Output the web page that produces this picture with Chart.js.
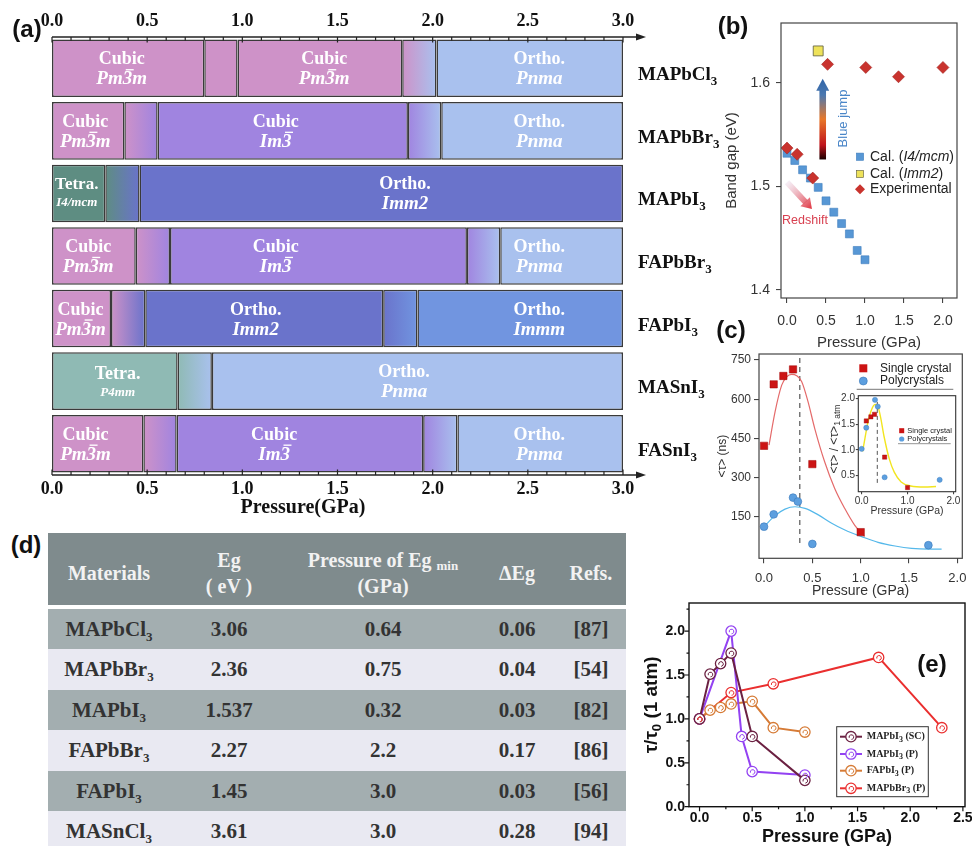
<!DOCTYPE html>
<html>
<head>
<meta charset="utf-8">
<script src="https://cdn.jsdelivr.net/npm/chart.js@4/dist/chart.umd.min.js"></script>
<style>
html,body{margin:0;padding:0;overflow:hidden;background:#fff;width:972px;height:846px;}
#root{position:relative;width:972px;height:846px;overflow:hidden;background:#fff;}
canvas{position:absolute;}
.plabel{position:absolute;font-family:'Liberation Sans',Arial,sans-serif;font-weight:bold;font-size:24px;color:#111;transform:translate(-50%,-50%);white-space:nowrap;line-height:1;}
#tbl{position:absolute;left:48px;top:533px;width:578px;font-family:'Liberation Serif','Times New Roman',serif;font-weight:bold;}
.tr{display:grid;grid-template-columns:122px 118px 190px 78px 70px;}
.tr>div{display:flex;align-items:center;justify-content:center;text-align:center;box-sizing:border-box;}
.th{height:72px;background:#7F8B8D;color:#F2F2F2;font-size:20px;line-height:26px;margin-bottom:3.5px;}
.th>div{padding-top:7px;}
.td{height:40.5px;font-size:21px;line-height:24px;color:#333;}
.dark{background:#A3AEB0;}
.light{background:#E9E9F2;}
sub{font-size:13px;vertical-align:-5px;line-height:0;}
.th sub{font-size:13px;vertical-align:-3px;}
</style>
</head>
<body>
<div id="root">
  <canvas id="ca" width="730" height="520" style="left:0;top:0;width:730px;height:520px"></canvas>
  <canvas id="cb" width="272" height="355" style="left:700px;top:0;width:272px;height:355px"></canvas>
  <canvas id="cc" width="285" height="265" style="left:700px;top:335px;width:285px;height:265px"></canvas>
  <canvas id="ci" width="145" height="135" style="left:820px;top:385px;width:145px;height:135px"></canvas>
  <canvas id="ce" width="345" height="258" style="left:640px;top:590px;width:345px;height:258px"></canvas>
  <div id="tbl"></div>
  <div class="plabel" style="left:27px;top:29px">(a)</div>
  <div class="plabel" style="left:733px;top:26px">(b)</div>
  <div class="plabel" style="left:731px;top:330px">(c)</div>
  <div class="plabel" style="left:26px;top:545px">(d)</div>
  <div class="plabel" style="left:932px;top:664px">(e)</div>
</div>
<script>
// ---------------- DATA ----------------
// (a) phase diagram
const materials = ['MAPbCl3', 'MAPbBr3', 'MAPbI3', 'FAPbBr3', 'FAPbI3', 'MASnI3', 'FASnI3'];
const boundaries = [
  [0, 0.80, 0.975, 1.84, 2.02, 3.0],
  [0, 0.38, 0.555, 1.87, 2.045, 3.0],
  [0, 0.28, 0.46, 3.0],
  [0, 0.44, 0.62, 2.18, 2.355, 3.0],
  [0, 0.31, 0.49, 1.74, 1.92, 3.0],
  [0, 0.66, 0.84, 3.0],
  [0, 0.48, 0.655, 1.95, 2.13, 3.0]
];
const phases = [
  ['cubicPm', 'cubicPm', 'cubicPm', 'trans', 'orthoPnma'],
  ['cubicPm', 'trans', 'cubicIm', 'trans', 'orthoPnma'],
  ['tetraI4', 'trans', 'orthoImm2'],
  ['cubicPm', 'trans', 'cubicIm', 'trans', 'orthoPnma'],
  ['cubicPm', 'trans', 'orthoImm2', 'trans', 'orthoImmm'],
  ['tetraP4', 'trans', 'orthoPnma'],
  ['cubicPm', 'trans', 'cubicIm', 'trans', 'orthoPnma']
];
const phaseLabels = [
  [['Cubic', 'Pm3m', 0.366], ['Cubic', 'Pm3m', 1.43], ['Ortho.', 'Pnma', 2.56]],
  [['Cubic', 'Pm3m', 0.175], ['Cubic', 'Im3', 1.175], ['Ortho.', 'Pnma', 2.56]],
  [['Tetra.', 'I4/mcm', 0.13], ['Ortho.', 'Imm2', 1.855]],
  [['Cubic', 'Pm3m', 0.19], ['Cubic', 'Im3', 1.175], ['Ortho.', 'Pnma', 2.56]],
  [['Cubic', 'Pm3m', 0.15], ['Ortho.', 'Imm2', 1.07], ['Ortho.', 'Immm', 2.56]],
  [['Tetra.', 'P4mm', 0.345], ['Ortho.', 'Pnma', 1.85]],
  [['Cubic', 'Pm3m', 0.176], ['Cubic', 'Im3', 1.167], ['Ortho.', 'Pnma', 2.56]]
];
const aTicks = [0, 0.5, 1.0, 1.5, 2.0, 2.5, 3.0];

// (b) band gap
const bCalI4X = [0, 0.1, 0.2, 0.3, 0.4, 0.5, 0.6, 0.7, 0.8, 0.9, 1.0];
const bCalI4Y = [1.532, 1.525, 1.516, 1.508, 1.499, 1.486, 1.475, 1.464, 1.454, 1.438, 1.429];
const bCalImm2X = [0.4];
const bCalImm2Y = [1.631];
const bExpX = [0.0, 0.13, 0.33, 0.52, 1.01, 1.43, 2.0];
const bExpY = [1.537, 1.531, 1.508, 1.618, 1.615, 1.606, 1.615];
const bTicksX = [0, 0.5, 1.0, 1.5, 2.0];
const bTicksY = [1.4, 1.5, 1.6];

// (c) lifetime
const cSingleX = [0, 0.1, 0.2, 0.3, 0.5, 1.0];
const cSingleY = [422, 657, 689, 714, 352, 92];
const cPolyX = [0, 0.1, 0.3, 0.35, 0.5, 1.7];
const cPolyY = [113, 160, 224, 209, 47, 42];
const cFitSingleX = [0.052, 0.114, 0.183, 0.235, 0.286, 0.338, 0.39, 0.455, 0.524, 0.627, 0.73, 0.834, 0.937, 1.04];
const cFitSingleY = [425, 552, 654, 686, 695, 690, 667, 591, 489, 361, 260, 183, 119, 75];
const cFitPolyX = [0, 0.114, 0.217, 0.32, 0.424, 0.562, 0.7, 0.837, 1.01, 1.18, 1.355, 1.527, 1.70, 1.837];
const cFitPolyY = [113, 155, 180, 189, 183, 158, 126, 100, 75, 53, 39, 30, 27, 27];
const cDashX = [0.37, 0.37];
const cDashY = [758, 45];
const cTicksX = [0, 0.5, 1.0, 1.5, 2.0];
const cTicksY = [150, 300, 450, 600, 750];
// (c) inset
const iSingleX = [0.1, 0.2, 0.28, 0.5, 1.0];
const iSingleY = [1.56, 1.64, 1.69, 0.86, 0.27];
const iPolyX = [0, 0.1, 0.29, 0.35, 0.5, 1.7];
const iPolyY = [1.02, 1.43, 1.97, 1.84, 0.47, 0.42];
const iFitX = [0.02, 0.07, 0.14, 0.21, 0.29, 0.34, 0.41, 0.49, 0.6, 0.71, 0.86, 1.07, 1.37, 1.62];
const iFitY = [0.97, 1.22, 1.55, 1.77, 1.88, 1.87, 1.64, 1.25, 0.83, 0.57, 0.38, 0.30, 0.28, 0.29];
const iDashX = [0.34, 0.34];
const iDashY = [1.93, 0.35];
const iTicksX = [0, 1.0, 2.0];
const iTicksY = [0.5, 1.0, 1.5, 2.0];

// (d) table
const tMaterials = ['MAPbCl3', 'MAPbBr3', 'MAPbI3', 'FAPbBr3', 'FAPbI3', 'MASnCl3'];
const tEg = ['3.06', '2.36', '1.537', '2.27', '1.45', '3.61'];
const tPressure = ['0.64', '0.75', '0.32', '2.2', '3.0', '3.0'];
const tDeltaEg = ['0.06', '0.04', '0.03', '0.17', '0.03', '0.28'];
const tRefs = ['[87]', '[54]', '[82]', '[86]', '[56]', '[94]'];

// (e) normalised lifetime
const eNames = ['MAPbI3 (SC)', 'MAPbI3 (P)', 'FAPbI3 (P)', 'MAPbBr3 (P)'];
const eSCX = [0, 0.1, 0.2, 0.3, 0.5, 1.0];
const eSCY = [1.0, 1.51, 1.63, 1.75, 0.8, 0.3];
const ePX = [0, 0.3, 0.4, 0.5, 1.0];
const ePY = [1.0, 2.0, 0.8, 0.4, 0.36];
const eFAX = [0, 0.1, 0.2, 0.3, 0.5, 0.7, 1.0];
const eFAY = [1.0, 1.1, 1.13, 1.17, 1.2, 0.9, 0.85];
const eBrX = [0, 0.3, 0.7, 1.7, 2.3];
const eBrY = [1.0, 1.3, 1.4, 1.7, 0.9];
const eTicksX = [0, 0.5, 1.0, 1.5, 2.0, 2.5];
const eTicksY = [0, 0.5, 1.0, 1.5, 2.0];

// ---------------- HELPERS ----------------
const SERIF = "'Liberation Serif', 'Times New Roman', serif";
const SANS = "'Liberation Sans', Arial, sans-serif";
Chart.defaults.font.family = SANS;
Chart.defaults.animation = false;
Chart.defaults.responsive = false;
Chart.defaults.maintainAspectRatio = false;
Chart.defaults.plugins.legend.display = false;
Chart.defaults.plugins.tooltip.enabled = false;
Chart.defaults.events = [];

const pts = (xs, ys) => xs.map((x, i) => ({x, y: ys[i]}));
const fixTicks = arr => (s => { s.ticks = arr.map(v => ({value: v})); });

function drawParts(ctx, parts, x, y, align) {
  let w = 0;
  for (const p of parts) { ctx.font = p.f; p.w = ctx.measureText(p.t).width; w += p.w; }
  let cx = align === 'center' ? x - w / 2 : (align === 'right' ? x - w : x);
  for (const p of parts) {
    ctx.font = p.f;
    if (p.c) ctx.fillStyle = p.c;
    ctx.fillText(p.t, cx, y + (p.dy || 0));
    if (p.bar) {
      const fs = p.bar;
      ctx.fillRect(cx + fs * 0.16, y + (p.dy || 0) - fs * 0.8, p.w - fs * 0.08, Math.max(1.2, fs * 0.07));
    }
    cx += p.w;
  }
  return w;
}
function phaseParts(txt, fs) {
  const f = `italic bold ${fs}px ${SERIF}`;
  const i = txt.indexOf('3');
  if (i < 0) return [{t: txt, f}];
  const parts = [];
  if (i > 0) parts.push({t: txt.slice(0, i), f});
  parts.push({t: '3', f, bar: fs});
  if (i < txt.length - 1) parts.push({t: txt.slice(i + 1), f});
  return parts;
}
function chemParts(name, fs, subFs, dy, extraFont) {
  const m = name.match(/^([A-Za-z]+)(\d)(.*)$/);
  const f = `bold ${fs}px ${extraFont || SERIF}`;
  const parts = [{t: m[1], f}, {t: m[2], f: `bold ${subFs}px ${extraFont || SERIF}`, dy}];
  if (m[3]) parts.push({t: m[3], f});
  return parts;
}

// ---------------- (a) ----------------
const segColor = {
  cubicPm: '#CE92C8', cubicIm: '#A084E0', orthoPnma: '#A9C1EE', orthoImm2: '#6A73CB',
  orthoImmm: '#7195E0', tetraI4: '#5E8D82', tetraP4: '#8FBAB4'
};
function segBg(c) {
  const r = c.dataIndex, k = c.datasetIndex;
  const ph = phases[r] && phases[r][k];
  if (!ph) return 'rgba(0,0,0,0)';
  if (ph !== 'trans') return segColor[ph];
  const prev = segColor[phases[r][k - 1]], next = segColor[phases[r][k + 1]];
  const chart = c.chart, xs = chart.scales && chart.scales.x;
  if (!chart.chartArea || !xs) return prev;
  const x0 = xs.getPixelForValue(boundaries[r][k]), x1 = xs.getPixelForValue(boundaries[r][k + 1]);
  if (!isFinite(x0) || !isFinite(x1) || x1 <= x0) return prev;
  const g = chart.ctx.createLinearGradient(x0, 0, x1, 0);
  g.addColorStop(0, prev); g.addColorStop(1, next);
  return g;
}
const nSeg = Math.max(...boundaries.map(b => b.length - 1));
const aDatasets = [];
for (let k = 0; k < nSeg; k++) {
  aDatasets.push({
    data: boundaries.map(b => (k < b.length - 1 ? [b[k], b[k + 1]] : null)),
    backgroundColor: segBg, borderColor: '#3a3a3a', borderWidth: 1.5, borderSkipped: false,
    grouped: false, barPercentage: 0.92, categoryPercentage: 1
  });
}
const panelAPlugin = {
  id: 'panelA',
  afterDraw(chart) {
    const {ctx, chartArea: ca, scales: {x, y}} = chart;
    ctx.save();
    ctx.textBaseline = 'alphabetic'; ctx.textAlign = 'left';
    phaseLabels.forEach((row, r) => {
      const cy = y.getPixelForValue(r);
      row.forEach(([t1, t2, p]) => {
        const cx = x.getPixelForValue(p);
        const tetra = t1 === 'Tetra.';
        const narrow = t2 === 'I4/mcm';
        ctx.fillStyle = '#ffffff';
        drawParts(ctx, [{t: t1, f: `bold ${narrow ? 17 : 18}px ${SERIF}`}], cx, cy + (tetra && !narrow ? -2 : -4), 'center');
        drawParts(ctx, phaseParts(t2, tetra ? 13 : 19), cx, cy + (tetra ? (narrow ? 13 : 15) : 16), 'center');
      });
    });
    ctx.fillStyle = '#111';
    materials.forEach((m, r) => {
      const cy = y.getPixelForValue(r);
      drawParts(ctx, chemParts(m, 19, 13, 5), ca.right + 15, cy + 12, 'left');
    });
    ctx.strokeStyle = '#222'; ctx.fillStyle = '#222';
    [[ca.top, 1], [ca.bottom, -1]].forEach(([yy, dir]) => {
      ctx.lineWidth = 1.6;
      ctx.beginPath(); ctx.moveTo(ca.left, yy); ctx.lineTo(ca.right + 16, yy); ctx.stroke();
      ctx.beginPath(); ctx.moveTo(ca.right + 23, yy); ctx.lineTo(ca.right + 13, yy - 3.5); ctx.lineTo(ca.right + 13, yy + 3.5); ctx.closePath(); ctx.fill();
      ctx.lineWidth = 1.2;
      ctx.beginPath();
      for (let i = 0; i <= 30; i++) {
        const px = x.getPixelForValue(i / 10);
        const len = i % 5 === 0 ? 5.5 : 3.5;
        ctx.moveTo(px, yy); ctx.lineTo(px, yy + dir * len);
      }
      ctx.stroke();
    });
    ctx.fillStyle = '#111'; ctx.font = `bold 20px ${SERIF}`; ctx.textAlign = 'center'; ctx.textBaseline = 'middle';
    ctx.fillText('Pressure(GPa)', ca.left + 251, 508);
    ctx.restore();
  }
};
const serifTick = {family: SERIF, weight: 'bold', size: 18};
new Chart(document.getElementById('ca'), {
  type: 'bar',
  data: {labels: materials, datasets: aDatasets},
  options: {
    indexAxis: 'y', devicePixelRatio: 1,
    layout: {padding: {left: 52, right: 107, top: 0, bottom: 0}},
    scales: {
      x: {type: 'linear', position: 'bottom', min: 0, max: 3, afterBuildTicks: fixTicks(aTicks),
        ticks: {callback: v => Number(v).toFixed(1), font: serifTick, color: '#111', padding: 3.5, maxRotation: 0, autoSkip: false},
        grid: {display: false, drawTicks: false}, border: {display: false}, afterFit: s => { s.height = 45; }},
      x2: {type: 'linear', position: 'top', min: 0, max: 3, afterBuildTicks: fixTicks(aTicks),
        ticks: {callback: v => Number(v).toFixed(1), font: serifTick, color: '#111', padding: 4.5, maxRotation: 0, autoSkip: false},
        grid: {display: false, drawTicks: false}, border: {display: false}, afterFit: s => { s.height = 37; }},
      y: {type: 'category', display: false, offset: true}
    }
  },
  plugins: [panelAPlugin]
});

// ---------------- (b) ----------------
const tickGrid = len => ({display: true, drawOnChartArea: false, drawTicks: true, tickLength: len, color: '#444', lineWidth: 1.1});
const panelBPlugin = {
  id: 'panelB',
  afterDraw(chart) {
    const {ctx, chartArea: ca, scales: {x, y}} = chart;
    ctx.save();
    ctx.strokeStyle = '#444'; ctx.lineWidth = 1.2;
    ctx.strokeRect(ca.left, ca.top, ca.right - ca.left, ca.bottom - ca.top);
    // blue jump arrow
    const ax = x.getPixelForValue(0.458), ay0 = y.getPixelForValue(1.526), ay1 = y.getPixelForValue(1.604);
    const g = ctx.createLinearGradient(0, ay0, 0, ay1);
    g.addColorStop(0, '#1a0000'); g.addColorStop(0.18, '#c0141c'); g.addColorStop(0.5, '#e8782a');
    g.addColorStop(0.8, '#4a78b0'); g.addColorStop(1, '#2f64a8');
    ctx.fillStyle = g;
    ctx.fillRect(ax - 3.3, ay1 + 11, 6.6, ay0 - ay1 - 11);
    ctx.beginPath(); ctx.moveTo(ax - 6.5, ay1 + 12); ctx.lineTo(ax + 6.5, ay1 + 12); ctx.lineTo(ax, ay1); ctx.closePath(); ctx.fill();
    // blue jump text
    ctx.save();
    ctx.translate(x.getPixelForValue(0.72), y.getPixelForValue(1.5656));
    ctx.rotate(-Math.PI / 2);
    ctx.fillStyle = '#4A86C8'; ctx.font = `13px ${SANS}`; ctx.textAlign = 'center'; ctx.textBaseline = 'middle';
    ctx.fillText('Blue jump', 0, 0);
    ctx.restore();
    // redshift arrow
    const p0x = x.getPixelForValue(0.0), p0y = y.getPixelForValue(1.504);
    const p1x = x.getPixelForValue(0.32), p1y = y.getPixelForValue(1.478);
    const ang = Math.atan2(p1y - p0y, p1x - p0x), len = Math.hypot(p1x - p0x, p1y - p0y);
    ctx.save();
    ctx.translate(p0x, p0y); ctx.rotate(ang);
    const g2 = ctx.createLinearGradient(0, 0, len, 0);
    g2.addColorStop(0, 'rgba(236,222,236,0.5)'); g2.addColorStop(1, '#E0303C');
    ctx.fillStyle = g2;
    ctx.fillRect(0, -3, len - 9, 6);
    ctx.beginPath(); ctx.moveTo(len - 10, -6.5); ctx.lineTo(len - 10, 6.5); ctx.lineTo(len, 0); ctx.closePath(); ctx.fill();
    ctx.restore();
    ctx.fillStyle = '#D84050'; ctx.font = `12.5px ${SANS}`; ctx.textAlign = 'center'; ctx.textBaseline = 'middle';
    ctx.fillText('Redshift', x.getPixelForValue(0.23), y.getPixelForValue(1.4673));
    // legend
    ctx.textAlign = 'left'; ctx.textBaseline = 'middle';
    const lx = 160, rows = [156.7, 174, 189.3];
    ctx.fillStyle = '#5797D5'; ctx.strokeStyle = '#3F7EBE'; ctx.lineWidth = 0.6;
    ctx.fillRect(lx - 3.6, rows[0] - 3.6, 7.2, 7.2); ctx.strokeRect(lx - 3.6, rows[0] - 3.6, 7.2, 7.2);
    ctx.fillStyle = '#EEE25A'; ctx.strokeStyle = '#5a5a40';
    ctx.fillRect(lx - 3.6, rows[1] - 3.6, 7.2, 7.2); ctx.strokeRect(lx - 3.6, rows[1] - 3.6, 7.2, 7.2);
    ctx.fillStyle = '#C9332E';
    ctx.beginPath(); ctx.moveTo(lx, rows[2] - 5); ctx.lineTo(lx + 5, rows[2]); ctx.lineTo(lx, rows[2] + 5); ctx.lineTo(lx - 5, rows[2]); ctx.closePath(); ctx.fill();
    const fN = `14px ${SANS}`, fI = `italic 14px ${SANS}`;
    ctx.fillStyle = '#222';
    drawParts(ctx, [{t: 'Cal. (', f: fN}, {t: 'I4/mcm', f: fI}, {t: ')', f: fN}], lx + 10, rows[0], 'left');
    drawParts(ctx, [{t: 'Cal. (', f: fN}, {t: 'Imm2', f: fI}, {t: ')', f: fN}], lx + 10, rows[1], 'left');
    drawParts(ctx, [{t: 'Experimental', f: fN}], lx + 10, rows[2], 'left');
    ctx.restore();
  }
};
new Chart(document.getElementById('cb'), {
  type: 'scatter',
  data: {datasets: [
    {data: pts(bExpX, bExpY), pointStyle: 'rectRot', pointRadius: 6, backgroundColor: '#C9332E', borderColor: '#A52420', borderWidth: 0.6},
    {data: pts(bCalImm2X, bCalImm2Y), pointStyle: 'rect', pointRadius: 7, backgroundColor: '#EEE25A', borderColor: '#5a5a40', borderWidth: 0.8},
    {data: pts(bCalI4X, bCalI4Y), pointStyle: 'rect', pointRadius: 5.6, backgroundColor: '#5797D5', borderColor: '#3F7EBE', borderWidth: 0.6}
  ]},
  options: {
    devicePixelRatio: 1,
    layout: {padding: {top: 23, right: 15, left: 0, bottom: 0}},
    scales: {
      x: {type: 'linear', min: -0.077, max: 2.18, afterBuildTicks: fixTicks(bTicksX),
        ticks: {callback: v => Number(v).toFixed(1), font: {size: 14}, color: '#333', padding: 10, maxRotation: 0, autoSkip: false},
        grid: tickGrid(5), border: {display: false},
        title: {display: true, text: 'Pressure (GPa)', font: {size: 15}, color: '#333', padding: {top: 0, bottom: 3}},
        afterFit: s => { s.height = 57; }},
      y: {type: 'linear', min: 1.392, max: 1.658, afterBuildTicks: fixTicks(bTicksY),
        ticks: {callback: v => Number(v).toFixed(1), font: {size: 14}, color: '#333', padding: 6},
        grid: tickGrid(5), border: {display: false},
        title: {display: true, text: 'Band gap (eV)', font: {size: 15}, color: '#333', padding: {top: 22.7, bottom: 0}},
        afterFit: s => { s.width = 81; }}
    }
  },
  plugins: [panelBPlugin]
});

// ---------------- (c) ----------------
const panelCPlugin = {
  id: 'panelC',
  afterDraw(chart) {
    const {ctx, chartArea: ca} = chart;
    ctx.save();
    ctx.strokeStyle = '#444'; ctx.lineWidth = 1.2;
    ctx.strokeRect(ca.left, ca.top, ca.right - ca.left, ca.bottom - ca.top);
    const lx = 163.3;
    ctx.fillStyle = '#CC1414'; ctx.fillRect(lx - 4, 33.3 - 4, 8, 8);
    ctx.fillStyle = '#5C9FDF'; ctx.strokeStyle = '#3A78BA'; ctx.lineWidth = 0.6;
    ctx.beginPath(); ctx.arc(lx, 46, 4, 0, Math.PI * 2); ctx.fill(); ctx.stroke();
    ctx.fillStyle = '#222'; ctx.font = `12px ${SANS}`; ctx.textAlign = 'left'; ctx.textBaseline = 'middle';
    ctx.fillText('Single crystal', 180, 33.3);
    ctx.fillText('Polycrystals', 180, 46);
    ctx.strokeStyle = '#777'; ctx.lineWidth = 1;
    ctx.beginPath(); ctx.moveTo(156.7, 54.3); ctx.lineTo(253.3, 54.3); ctx.stroke();
    ctx.restore();
  }
};
new Chart(document.getElementById('cc'), {
  type: 'scatter',
  data: {datasets: [
    {data: pts(cSingleX, cSingleY), pointStyle: 'rect', pointRadius: 5.2, backgroundColor: '#CC1414', borderColor: '#A00000', borderWidth: 0.5},
    {data: pts(cPolyX, cPolyY), pointStyle: 'circle', pointRadius: 3.9, backgroundColor: '#5C9FDF', borderColor: '#3A78BA', borderWidth: 0.6},
    {data: pts(cFitSingleX, cFitSingleY), showLine: true, pointRadius: 0, borderColor: '#E46A6A', borderWidth: 1.2, cubicInterpolationMode: 'monotone'},
    {data: pts(cFitPolyX, cFitPolyY), showLine: true, pointRadius: 0, borderColor: '#55B8EA', borderWidth: 1.2, cubicInterpolationMode: 'monotone'},
    {data: pts(cDashX, cDashY), showLine: true, pointRadius: 0, borderColor: '#555', borderWidth: 1.2, borderDash: [5, 4]}
  ]},
  options: {
    devicePixelRatio: 1,
    layout: {padding: {top: 19, right: 22.7, left: 0, bottom: 0}},
    scales: {
      x: {type: 'linear', min: -0.052, max: 2.051, afterBuildTicks: fixTicks(cTicksX),
        ticks: {callback: v => Number(v).toFixed(1), font: {size: 13}, color: '#333', padding: 7, maxRotation: 0, autoSkip: false},
        grid: tickGrid(5), border: {display: false},
        title: {display: true, text: 'Pressure (GPa)', font: {size: 14}, color: '#333', padding: {top: 0, bottom: 0}},
        afterFit: s => { s.height = 41.7; }},
      y: {type: 'linear', min: -8, max: 773, afterBuildTicks: fixTicks(cTicksY),
        ticks: {callback: v => String(v), font: {size: 12}, color: '#333', padding: 3},
        grid: tickGrid(5), border: {display: false},
        title: {display: true, text: '<τ> (ns)', font: {size: 12}, color: '#333', padding: {top: 15, bottom: 0}},
        afterFit: s => { s.width = 59; }}
    }
  },
  plugins: [panelCPlugin]
});

// inset
const insetPlugin = {
  id: 'inset',
  beforeDraw(chart) {
    const {ctx, chartArea: ca} = chart;
    ctx.save(); ctx.fillStyle = '#fff';
    ctx.fillRect(ca.left, ca.top, ca.right - ca.left, ca.bottom - ca.top);
    ctx.restore();
  },
  afterDraw(chart) {
    const {ctx, chartArea: ca} = chart;
    ctx.save();
    ctx.strokeStyle = '#333'; ctx.lineWidth = 1.1;
    ctx.strokeRect(ca.left, ca.top, ca.right - ca.left, ca.bottom - ca.top);
    const lx = 81.7;
    ctx.fillStyle = '#CC1414'; ctx.fillRect(lx - 2.5, 45.7 - 2.5, 5, 5);
    ctx.fillStyle = '#5C9FDF';
    ctx.beginPath(); ctx.arc(lx, 54, 2.6, 0, Math.PI * 2); ctx.fill();
    ctx.fillStyle = '#222'; ctx.font = `7.5px ${SANS}`; ctx.textAlign = 'left'; ctx.textBaseline = 'middle';
    ctx.fillText('Single crystal', 87.3, 45.7);
    ctx.fillText('Polycrystals', 87.3, 54);
    ctx.strokeStyle = '#777'; ctx.lineWidth = 0.8;
    ctx.beginPath(); ctx.moveTo(78, 58.7); ctx.lineTo(130.7, 58.7); ctx.stroke();
    // y title
    ctx.translate(15, 54); ctx.rotate(-Math.PI / 2);
    ctx.fillStyle = '#333'; ctx.textBaseline = 'middle';
    drawParts(ctx, [{t: '<τ> / <τ>', f: `12px ${SANS}`}, {t: '1 atm', f: `8.5px ${SANS}`, dy: 3}], 0, 0, 'center');
    ctx.restore();
  }
};
new Chart(document.getElementById('ci'), {
  type: 'scatter',
  data: {datasets: [
    {data: pts(iSingleX, iSingleY), pointStyle: 'rect', pointRadius: 3, backgroundColor: '#CC1414', borderColor: '#A00000', borderWidth: 0.4},
    {data: pts(iPolyX, iPolyY), pointStyle: 'circle', pointRadius: 2.6, backgroundColor: '#5C9FDF', borderColor: '#3A78BA', borderWidth: 0.4},
    {data: pts(iFitX, iFitY), showLine: true, pointRadius: 0, borderColor: '#F2E520', borderWidth: 1.4, cubicInterpolationMode: 'monotone'},
    {data: pts(iDashX, iDashY), showLine: true, pointRadius: 0, borderColor: '#555', borderWidth: 1, borderDash: [4, 3]}
  ]},
  options: {
    devicePixelRatio: 1,
    layout: {padding: {top: 10.7, right: 9.3, left: 0, bottom: 0}},
    scales: {
      x: {type: 'linear', min: -0.074, max: 2.05, afterBuildTicks: fixTicks(iTicksX),
        ticks: {callback: v => Number(v).toFixed(1), font: {size: 10}, color: '#333', padding: 0.8, maxRotation: 0, autoSkip: false},
        grid: tickGrid(2.5), border: {display: false},
        title: {display: true, text: 'Pressure (GPa)', font: {size: 10.5}, color: '#333', padding: {top: 0, bottom: 3}},
        afterFit: s => { s.height = 28.3; }},
      y: {type: 'linear', min: 0.19, max: 2.05, afterBuildTicks: fixTicks(iTicksY),
        ticks: {callback: v => Number(v).toFixed(1), font: {size: 10}, color: '#333', padding: 0.8},
        grid: tickGrid(2.5), border: {display: false},
        afterFit: s => { s.width = 38.3; }}
    }
  },
  plugins: [insetPlugin]
});

// ---------------- (d) table ----------------
(function buildTable() {
  const chem = s => s.replace(/(\d)$/, '<sub>$1</sub>');
  let html = '<div class="tr th"><div><span>Materials</span></div><div><span>Eg<br>( eV )</span></div>' +
    '<div><span>Pressure of Eg <sub>min</sub><br>(GPa)</span></div><div><span>ΔEg</span></div><div><span>Refs.</span></div></div>';
  tMaterials.forEach((m, i) => {
    html += `<div class="tr td ${i % 2 === 0 ? 'dark' : 'light'}"><div><span>${chem(m)}</span></div><div><span>${tEg[i]}</span></div>` +
      `<div><span>${tPressure[i]}</span></div><div><span>${tDeltaEg[i]}</span></div><div><span>${tRefs[i]}</span></div></div>`;
  });
  document.getElementById('tbl').innerHTML = html;
})();

// ---------------- (e) ----------------
const eColors = ['#6B2142', '#9342F2', '#D67B36', '#EA2F2F'];
const eSeries = [[eSCX, eSCY], [ePX, ePY], [eFAX, eFAY], [eBrX, eBrY]];
const panelEPlugin = {
  id: 'panelE',
  afterDatasetsDraw(chart) {
    const {ctx} = chart;
    ctx.save(); ctx.lineWidth = 1;
    chart.data.datasets.forEach((ds, i) => {
      ctx.strokeStyle = ds.borderColor;
      chart.getDatasetMeta(i).data.forEach(pt => {
        ctx.beginPath(); ctx.arc(pt.x + 0.4, pt.y + 0.4, 2.3, Math.PI * 0.9, Math.PI * 2.5); ctx.stroke();
      });
    });
    ctx.restore();
  },
  afterDraw(chart) {
    const {ctx, chartArea: ca, scales: {x, y}} = chart;
    ctx.save();
    ctx.strokeStyle = '#111'; ctx.lineWidth = 1.4;
    ctx.strokeRect(ca.left, ca.top, ca.right - ca.left, ca.bottom - ca.top);
    ctx.lineWidth = 1.2;
    ctx.beginPath();
    for (let i = 0; i <= 10; i++) {
      const px = x.getPixelForValue(i * 0.25);
      const len = i % 2 === 0 ? 4.5 : 2.5;
      ctx.moveTo(px, ca.bottom); ctx.lineTo(px, ca.bottom + len);
    }
    for (let i = 0; i <= 9; i++) {
      const py = y.getPixelForValue(i * 0.25);
      const len = i % 2 === 0 ? 4.5 : 2.5;
      ctx.moveTo(ca.left, py); ctx.lineTo(ca.left - len, py);
    }
    ctx.stroke();
    // legend
    const bx0 = 196.7, by0 = 136.7, bx1 = 288.3, by1 = 206.7;
    ctx.fillStyle = '#fff'; ctx.fillRect(bx0, by0, bx1 - bx0, by1 - by0);
    ctx.strokeStyle = '#333'; ctx.lineWidth = 1; ctx.strokeRect(bx0, by0, bx1 - bx0, by1 - by0);
    const rows = [146.7, 164, 180.7, 198.3];
    eNames.forEach((n, i) => {
      const yy = rows[i];
      ctx.strokeStyle = eColors[i]; ctx.lineWidth = 2;
      ctx.beginPath(); ctx.moveTo(200, yy); ctx.lineTo(222, yy); ctx.stroke();
      ctx.fillStyle = '#fff'; ctx.lineWidth = 1.3;
      ctx.beginPath(); ctx.arc(211, yy, 5.2, 0, Math.PI * 2); ctx.fill(); ctx.stroke();
      ctx.lineWidth = 1;
      ctx.beginPath(); ctx.arc(211.4, yy + 0.4, 2.3, Math.PI * 0.9, Math.PI * 2.5); ctx.stroke();
      ctx.fillStyle = '#222'; ctx.textBaseline = 'middle';
      drawParts(ctx, chemParts(n, 10, 8, 3), 226.7, yy, 'left');
    });
    // y title
    ctx.save();
    ctx.translate(12, (ca.top + ca.bottom) / 2); ctx.rotate(-Math.PI / 2);
    ctx.fillStyle = '#111'; ctx.textBaseline = 'middle';
    drawParts(ctx, [{t: 'τ/τ', f: `bold 19px ${SANS}`}, {t: '0', f: `bold 13px ${SANS}`, dy: 5}, {t: ' (1 atm)', f: `bold 19px ${SANS}`}], 0, 0, 'center');
    ctx.restore();
    ctx.restore();
  }
};
const boldTick = {size: 14, weight: 'bold'};
new Chart(document.getElementById('ce'), {
  type: 'scatter',
  data: {datasets: eSeries.map(([xs, ys], i) => ({
    data: pts(xs, ys), showLine: true, borderColor: eColors[i], borderWidth: 2,
    pointStyle: 'circle', pointRadius: 5.2, pointBackgroundColor: '#fff', pointBorderColor: eColors[i], pointBorderWidth: 1.3
  }))},
  options: {
    devicePixelRatio: 1,
    layout: {padding: {top: 13, right: 20, left: 0, bottom: 0}},
    scales: {
      x: {type: 'linear', min: -0.1, max: 2.52, afterBuildTicks: fixTicks(eTicksX),
        ticks: {callback: v => Number(v).toFixed(1), font: boldTick, color: '#111', padding: 3, maxRotation: 0, autoSkip: false},
        grid: {display: false, drawTicks: false}, border: {display: false},
        title: {display: true, text: 'Pressure (GPa)', font: {size: 18, weight: 'bold'}, color: '#111', padding: {top: 0, bottom: 0}},
        afterFit: s => { s.height = 41.3; }},
      y: {type: 'linear', min: 0, max: 2.32, afterBuildTicks: fixTicks(eTicksY),
        ticks: {callback: v => Number(v).toFixed(1), font: boldTick, color: '#111', padding: 4},
        grid: {display: false, drawTicks: false}, border: {display: false},
        afterFit: s => { s.width = 49; }}
    }
  },
  plugins: [panelEPlugin]
});
</script>
</body>
</html>
